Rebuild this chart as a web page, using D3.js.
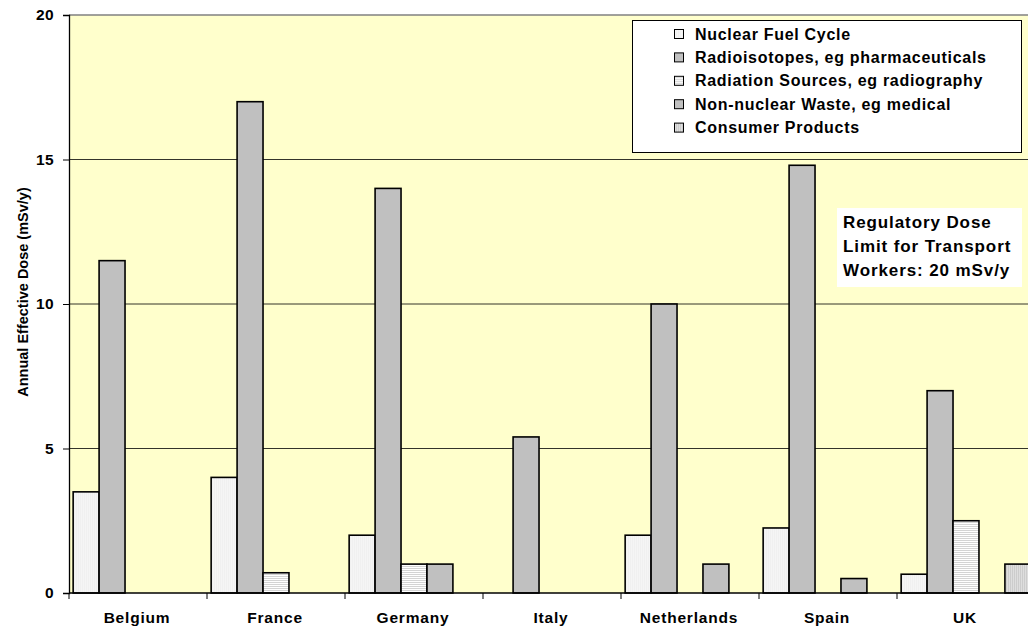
<!DOCTYPE html>
<html>
<head>
<meta charset="utf-8">
<script src="https://cdn.jsdelivr.net/npm/d3@7"></script>
<style>
  body { margin: 0; background: #fff; }
  text { font-family: "Liberation Sans", Arial, sans-serif; font-weight: bold; fill: #000; }
</style>
</head>
<body>
<svg id="chart" width="1028" height="627"></svg>
<script>
var countries = ["Belgium", "France", "Germany", "Italy", "Netherlands", "Spain", "UK"];
var seriesNames = ["Nuclear Fuel Cycle", "Radioisotopes, eg pharmaceuticals", "Radiation Sources, eg radiography", "Non-nuclear Waste, eg medical", "Consumer Products"];
var nuclearFuel   = [3.5, 4.0, 2.0, 0, 2.0, 2.25, 0.65];
var radioisotopes = [11.5, 17.0, 14.0, 5.4, 10.0, 14.8, 7.0];
var radSources    = [0, 0.7, 1.0, 0, 0, 0, 2.5];
var nonNuclear    = [0, 0, 1.0, 0, 1.0, 0.5, 0];
var consumer      = [0, 0, 0, 0, 0, 0, 1.0];
var yTicks = [0, 5, 10, 15, 20];
var noteLines = ["Regulatory Dose", "Limit for Transport", "Workers: 20 mSv/y"];

var series = [nuclearFuel, radioisotopes, radSources, nonNuclear, consumer];
var fills = ["url(#pNfc)", "#c0c0c0", "url(#pRs)", "#c0c0c0", "url(#pCp)"];

var svg = d3.select("#chart");
var margin = {left: 69, top: 15, right: 1035, bottom: 593};

// patterns like the old excel fills
var defs = svg.append("defs");
function pattern(id, bg, line, vertical) {
  var p = defs.append("pattern").attr("id", id).attr("patternUnits", "userSpaceOnUse")
    .attr("width", 2).attr("height", 2);
  p.append("rect").attr("width", 2).attr("height", 2).attr("fill", bg);
  if (vertical)
    p.append("rect").attr("width", 1).attr("height", 2).attr("fill", line);
  else
    p.append("rect").attr("width", 2).attr("height", 1).attr("fill", line);
}
pattern("pNfc", "#f5f5f5", "#f0f0f0", true);
pattern("pRs", "#ffffff", "#d4d4d4", false);
pattern("pCp", "#dedede", "#cccccc", true);

defs.append("clipPath").attr("id", "clip").append("rect")
  .attr("x", 0).attr("y", 0).attr("width", 1028).attr("height", 627);

var x = d3.scaleBand().domain(countries).range([margin.left, margin.right]);
var x1 = d3.scaleBand().domain(d3.range(series.length)).range([0, x.bandwidth()]).paddingOuter(0.16);
var y = d3.scaleLinear().domain([0, 20]).range([margin.bottom, margin.top]);

var g = svg.append("g").attr("clip-path", "url(#clip)");

g.append("rect")
  .attr("x", margin.left).attr("y", margin.top)
  .attr("width", margin.right - margin.left).attr("height", margin.bottom - margin.top)
  .attr("fill", "#ffffcc");

// gridlines
g.selectAll(".grid").data(yTicks.filter(function(d) { return d > 0 && d < 20; }))
  .enter().append("line")
  .attr("x1", margin.left).attr("x2", margin.right)
  .attr("y1", function(d) { return y(d); }).attr("y2", function(d) { return y(d); })
  .attr("stroke", "#000").attr("stroke-width", 0.8);

g.append("line")
  .attr("x1", margin.left).attr("x2", margin.right)
  .attr("y1", margin.top).attr("y2", margin.top)
  .attr("stroke", "#808080").attr("stroke-width", 1.5);

// bars
series.forEach(function(vals, si) {
  var rows = vals.map(function(v, i) { return {country: countries[i], value: v}; })
    .filter(function(d) { return d.value > 0; });
  g.selectAll(".bar" + si).data(rows).enter()
    .append("rect")
    .attr("x", function(d) { return x(d.country) + x1(si); })
    .attr("y", function(d) { return y(d.value); })
    .attr("width", x1.bandwidth())
    .attr("height", function(d) { return y(0) - y(d.value); })
    .attr("fill", fills[si])
    .attr("stroke", "#000").attr("stroke-width", 1.6);
});

// axes
var yAxis = d3.axisLeft(y).tickValues(yTicks).tickSize(6).tickPadding(9);
var ya = svg.append("g").attr("transform", "translate(" + margin.left + ",0)").call(yAxis);
ya.select(".domain").attr("stroke", "#000").attr("stroke-width", 1.3);
ya.selectAll(".tick line").attr("stroke", "#000");
ya.selectAll("text").style("font-size", "15.5px").style("letter-spacing", "0.4px")
  .style("font-family", "Liberation Sans, Arial, sans-serif").style("font-weight", "bold");

var xTickPos = countries.map(function(c) { return x(c); });
var xa = svg.append("g");
xa.append("line").attr("x1", margin.left).attr("x2", 1028)
  .attr("y1", y(0)).attr("y2", y(0)).attr("stroke", "#000").attr("stroke-width", 1.3);
xa.selectAll(".xt").data(xTickPos).enter().append("line")
  .attr("x1", function(d) { return d; }).attr("x2", function(d) { return d; })
  .attr("y1", y(0)).attr("y2", y(0) + 6).attr("stroke", "#000");
xa.selectAll(".xl").data(countries).enter().append("text")
  .attr("x", function(d) { return x(d) + x.bandwidth() / 2 - 1; })
  .attr("y", 623)
  .attr("text-anchor", "middle")
  .style("font-size", "15.5px").style("letter-spacing", "0.8px")
  .text(function(d) { return d; });

svg.append("text")
  .attr("transform", "translate(28,292) rotate(-90)")
  .attr("text-anchor", "middle")
  .style("font-size", "14.5px")
  .text("Annual Effective Dose (mSv/y)");

// legend
var legend = svg.append("g");
legend.append("rect").attr("x", 632.5).attr("y", 20.5).attr("width", 389).attr("height", 132)
  .attr("fill", "#fff").attr("stroke", "#000").attr("stroke-width", 1);
var lg = legend.selectAll(".lg").data(seriesNames).enter().append("g")
  .attr("transform", function(d, i) { return "translate(0," + (34 + i * 23.4) + ")"; });
lg.append("rect").attr("x", 674.5).attr("y", -4.5).attr("width", 9).attr("height", 9)
  .attr("fill", function(d, i) { return fills[i]; })
  .attr("stroke", "#000").attr("stroke-width", 1);
lg.append("text").attr("x", 695).attr("y", 5.5)
  .style("font-size", "16px").style("letter-spacing", "0.7px")
  .text(function(d) { return d; });

// note box
var note = svg.append("g");
note.append("rect").attr("x", 837).attr("y", 208).attr("width", 185).attr("height", 79).attr("fill", "#fff");
note.selectAll("text").data(noteLines).enter().append("text")
  .attr("x", 843).attr("y", function(d, i) { return 227.5 + i * 24.3; })
  .style("font-size", "17px").style("letter-spacing", "0.9px")
  .text(function(d) { return d; });
</script>
</body>
</html>
